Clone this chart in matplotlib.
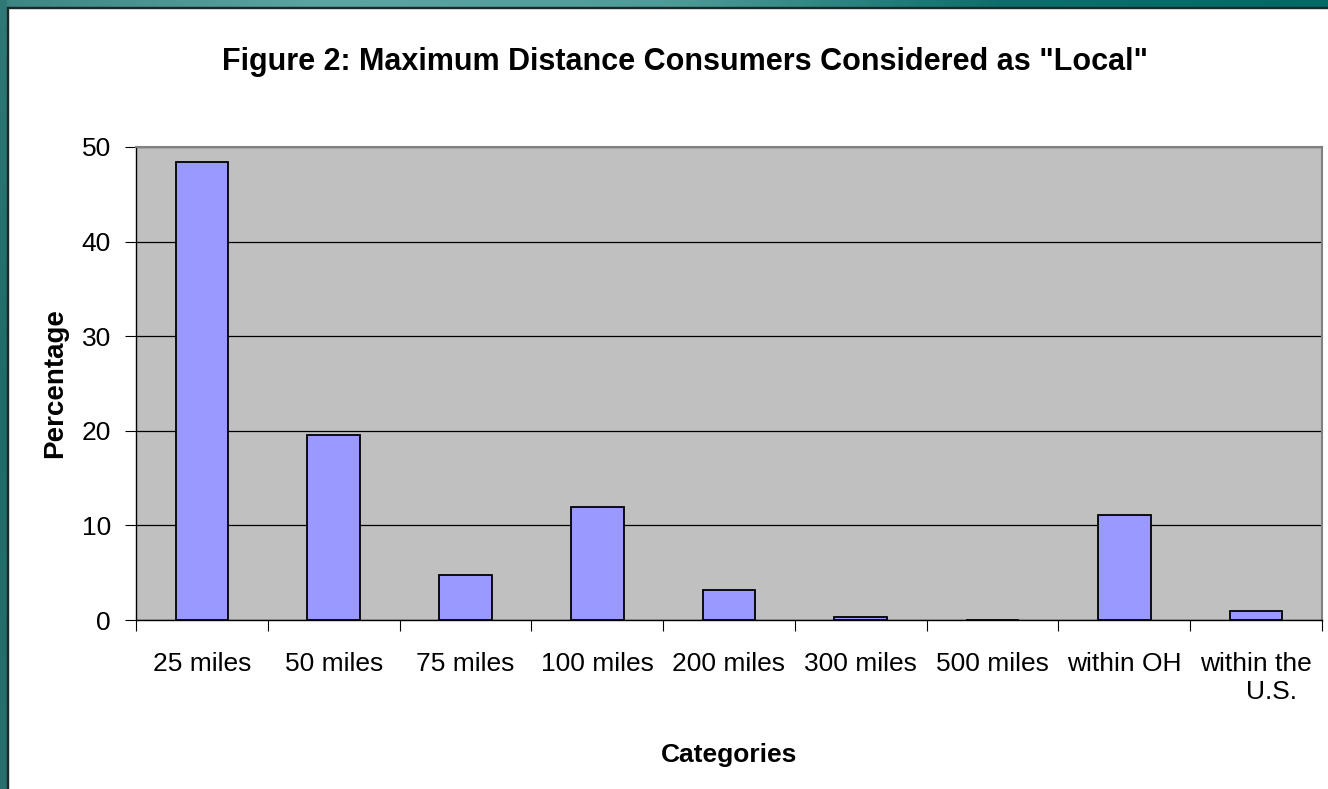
import numpy as np
import matplotlib.pyplot as plt
from matplotlib.patches import Rectangle
from matplotlib.colors import LinearSegmentedColormap

# данные с картинки
categories = ['25 miles', '50 miles', '75 miles', '100 miles', '200 miles',
              '300 miles', '500 miles', 'within OH', 'within the\nU.S.  ']
percentages = [48.4, 19.6, 4.8, 11.9, 3.2, 0.3, 0.0, 11.1, 1.0]
y_ticks = [0, 10, 20, 30, 40, 50]

W, H = 1328, 789
fig = plt.figure(figsize=(W / 100, H / 100), dpi=100)
fig.patch.set_facecolor('white')

# рамка слайда (бирюзовая полоса сверху и слева)
top_cmap = LinearSegmentedColormap.from_list(
    'top', ['#3C8583', '#5BA5A3', '#4E9C9A', '#0D6F6B', '#006A66'])
ax_top = fig.add_axes([0, 1 - 7 / H, 1, 7 / H])
ax_top.imshow(np.linspace(0, 1, 256)[None, :], cmap=top_cmap, aspect='auto')
ax_top.axis('off')
left_cmap = LinearSegmentedColormap.from_list('left', ['#2F7A78', '#1E6B68', '#27706D'])
ax_left = fig.add_axes([0, 0, 7 / W, 1])
ax_left.imshow(np.linspace(0, 1, 256)[:, None], cmap=left_cmap, aspect='auto')
ax_left.axis('off')
fig.patches.append(Rectangle((7 / W, 0), 1.2 / W, 1 - 7 / H, transform=fig.transFigure,
                             color='#1a2a2a', zorder=5))
fig.patches.append(Rectangle((7 / W, 1 - 8.2 / H), 1, 1.2 / H, transform=fig.transFigure,
                             color='#1a2a2a', zorder=5))

# основной график
ax = fig.add_axes([136 / W, 1 - 620 / H, (1322 - 136) / W, (620 - 147) / H])
ax.set_facecolor('#C0C0C0')
x = np.arange(len(categories))
ax.bar(x, percentages, width=0.4, color='#9999FF', edgecolor='black', linewidth=1.3, zorder=3)

ax.set_xlim(-0.5, len(categories) - 0.5)
ax.set_ylim(0, 50)
ax.set_yticks(y_ticks)
ax.set_yticklabels([str(t) for t in y_ticks], fontsize=19, family='Liberation Sans')
ax.yaxis.grid(True, color='black', linewidth=0.9, zorder=1)
ax.set_axisbelow(True)

# тики X на границах категорий, подписи по центру
ax.set_xticks(np.arange(-0.5, len(categories)), minor=False)
ax.set_xticklabels([])
ax.set_xticks(x, minor=True)
ax.set_xticklabels(categories, minor=True, fontsize=19, family='Liberation Sans',
                   multialignment='right')
ax.tick_params(axis='x', which='minor', length=0, pad=23)
ax.tick_params(axis='x', which='major', length=8, direction='out', color='black')
ax.tick_params(axis='y', length=8, direction='out', pad=10)

for side in ['top', 'right']:
    ax.spines[side].set_color('#808080')
    ax.spines[side].set_linewidth(1.5)
for side in ['left', 'bottom']:
    ax.spines[side].set_color('black')
    ax.spines[side].set_linewidth(1.0)

ax.set_ylabel('Percentage', fontsize=20, fontweight='bold', family='Liberation Sans', labelpad=10)
ax.set_xlabel('Categories', fontsize=19, fontweight='bold', family='Liberation Sans', labelpad=28)

fig.text(685 / W, 1 - 62 / H, 'Figure 2: Maximum Distance Consumers Considered as "Local"',
         ha='center', va='center', fontsize=22, fontweight='bold', family='Liberation Sans')

plt.savefig('out.png', dpi=100)
